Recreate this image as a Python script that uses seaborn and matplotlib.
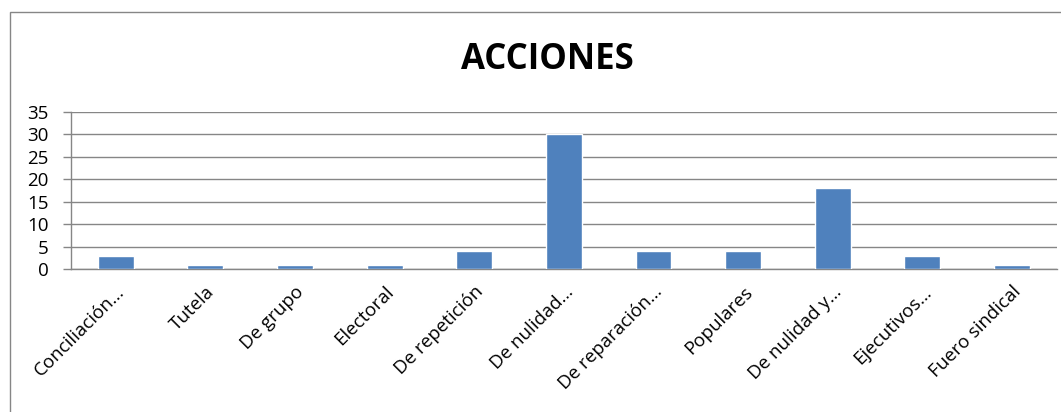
import matplotlib
matplotlib.use("Agg")
import matplotlib.pyplot as plt
import seaborn as sns
import pandas as pd
from matplotlib.patches import Rectangle

categorias = ["Conciliación…", "Tutela", "De grupo", "Electoral", "De repetición",
              "De nulidad…", "De reparación…", "Populares", "De nulidad y…",
              "Ejecutivos…", "Fuero sindical"]
valores = [3, 1, 1, 1, 4, 30, 4, 4, 18, 3, 1]
yticks = [0, 5, 10, 15, 20, 25, 30, 35]

df = pd.DataFrame({"accion": categorias, "cantidad": valores})

sns.set_theme(style="white")
plt.rcParams['font.family'] = ['Open Sans', 'DejaVu Sans']

fig = plt.figure(figsize=(10.61, 4.12), dpi=100)
ax = fig.add_axes([0.0669, 0.347, 0.9291, 0.381])

sns.barplot(data=df, x="accion", y="cantidad", color="#4F81BD", width=0.4,
            saturation=1, ax=ax, zorder=3)

gris = "#868686"
ax.set_ylim(0, 35)
ax.set_yticks(yticks)
ax.set_xlim(-0.5, len(categorias) - 0.5)
ax.yaxis.grid(True, color=gris, linewidth=1, zorder=0)
ax.set_xlabel("")
ax.set_ylabel("")
for s in ["top", "right"]:
    ax.spines[s].set_visible(False)
for s in ["left", "bottom"]:
    ax.spines[s].set_color(gris)
    ax.spines[s].set_linewidth(1)

# marcas entre categorias, como en Excel
ax.set_xticks(range(len(categorias)))
ax.set_xticklabels(categorias, rotation=45, ha="right", rotation_mode="anchor",
                   fontsize=13.5, color="black")
ax.tick_params(axis="x", length=0, pad=10)
ax.set_xticks([i - 0.5 for i in range(len(categorias) + 1)], minor=True)
ax.tick_params(axis="x", which="minor", length=6, color=gris, width=1, direction="out")
ax.tick_params(axis="y", length=6, color=gris, width=1, labelsize=13.5, pad=10,
               labelcolor="black", left=True, direction="out")

fig.text(0.516, 0.855, "ACCIONES", ha="center", va="center", fontsize=25,
         fontweight="bold", color="black")

fig.patches.append(Rectangle((10 / 1061, -0.1), 1.2, 1 - 12 / 412 + 0.1,
                             transform=fig.transFigure, fill=False,
                             edgecolor=gris, linewidth=1))

fig.savefig("out.png", dpi=100)
